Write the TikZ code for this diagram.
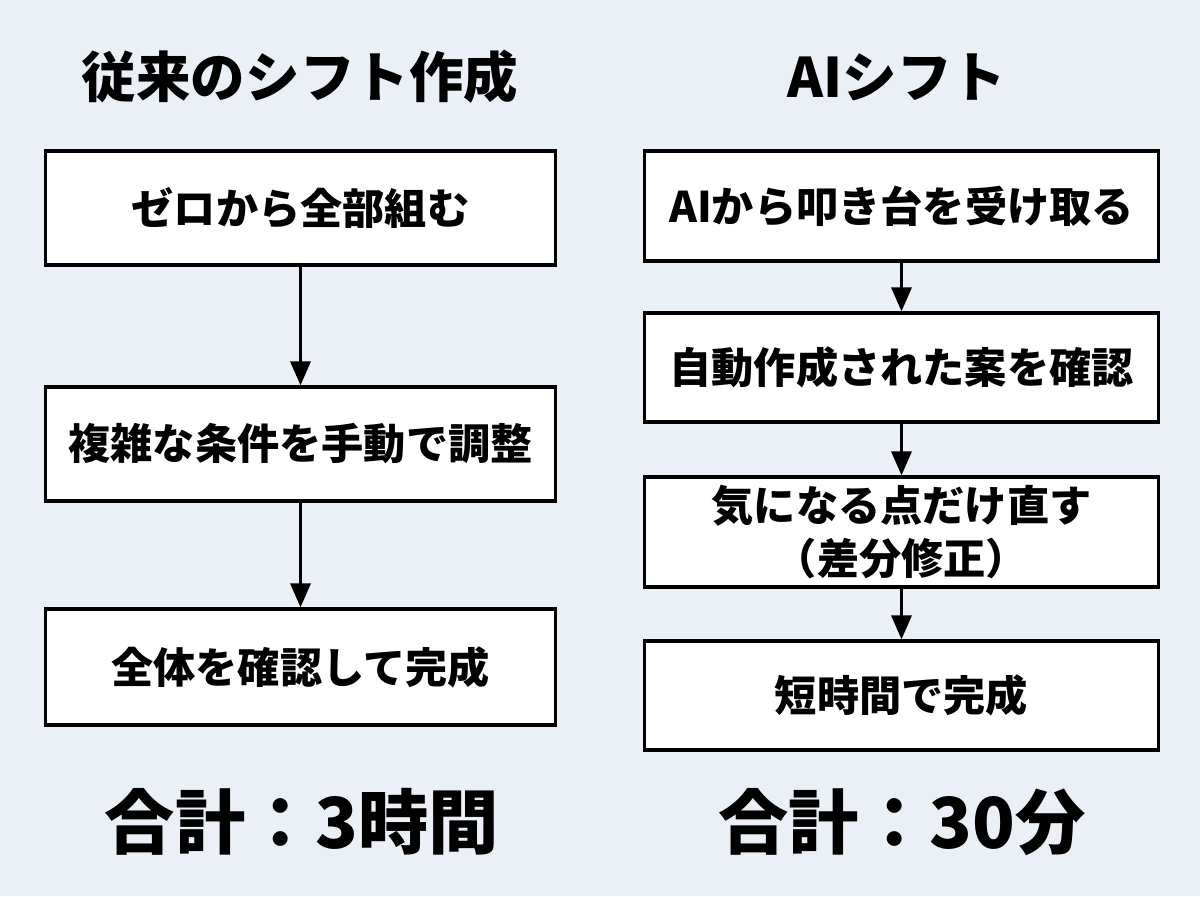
\documentclass[tikz,border=0pt]{standalone}
\usepackage{fontspec}
\setmainfont{Noto Sans CJK JP}
\usetikzlibrary{arrows.meta}
\definecolor{bg}{RGB}{234,240,245}
\tikzset{
  stepbox/.style={draw=black, fill=white, line width=0.9pt, minimum height=#1, inner sep=0pt, align=center, font=\fontsize{12}{15}\selectfont\bfseries},
  flow/.style={draw=black, line width=0.9pt, -{Triangle[width=0.2cm,length=0.24cm]}},
  title/.style={font=\fontsize{15.5}{18}\selectfont\bfseries},
  total/.style={font=\fontsize{20}{24}\selectfont\bfseries}
}
\begin{document}
\begin{tikzpicture}[x=0.01cm,y=-0.01cm]
\fill[bg] (0,0) rectangle (1200,896);
\useasboundingbox (0,0) rectangle (1200,896);
% left column
\node[title] (lt) at (300,77) {従来のシフト作成};
\node[stepbox=1.14cm, minimum width=5.09cm] (l1) at (300.5,208) {ゼロから全部組む};
\node[stepbox=1.14cm, minimum width=5.09cm] (l2) at (300.5,444) {複雑な条件を手動で調整};
\node[stepbox=1.16cm, minimum width=5.09cm] (l3) at (300.5,667) {全体を確認して完成};
\node[total] (ls) at (302,822) {合計：3時間};
\draw[flow] (l1) -- (l2);
\draw[flow] (l2) -- (l3);
% right column
\node[title] (rt) at (897,77) {AIシフト};
\node[stepbox=1.10cm, minimum width=5.13cm] (r1) at (901.5,206) {AIから叩き台を受け取る};
\node[stepbox=1.09cm, minimum width=5.13cm] (r2) at (901.5,367.5) {自動作成された案を確認};
\node[stepbox=1.10cm, minimum width=5.13cm] (r3) at (901.5,532) {気になる点だけ直す\\（差分修正）};
\node[stepbox=1.09cm, minimum width=5.13cm] (r4) at (901.5,695.5) {短時間で完成};
\node[total] (rs) at (902,822) {合計：30分};
\draw[flow] (r1) -- (r2);
\draw[flow] (r2) -- (r3);
\draw[flow] (r3) -- (r4);
\end{tikzpicture}
\end{document}
